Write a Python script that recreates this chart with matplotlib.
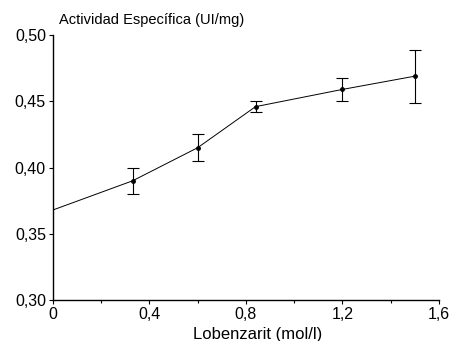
import numpy as np
import matplotlib
matplotlib.use("Agg")
import matplotlib.pyplot as plt
from matplotlib.ticker import MultipleLocator, FuncFormatter

plt.rcParams['font.family'] = ['Liberation Sans', 'DejaVu Sans']

# concentration (mol/l) and specific activity (UI/mg)
conc = [0.0, 0.33, 0.6, 0.84, 1.2, 1.5]
activity = [0.368, 0.390, 0.415, 0.446, 0.459, 0.469]
err = [0.0, 0.010, 0.010, 0.004, 0.009, 0.020]

fig = plt.figure(figsize=(4.6, 3.41), dpi=100)
ax = fig.add_axes([0.115, 0.12, 0.839, 0.777])

# line through all points, markers/error bars only on measured ones
ax.plot(conc, activity, color='black', lw=0.7)
ax.errorbar(conc[1:], activity[1:], yerr=err[1:], fmt='o', color='black',
            ms=2.5, elinewidth=0.8, capsize=4, capthick=0.8)

ax.set_xlim(0, 1.6)
ax.set_ylim(0.30, 0.50)
ax.xaxis.set_major_locator(MultipleLocator(0.4))
ax.xaxis.set_minor_locator(MultipleLocator(0.2))
ax.yaxis.set_major_locator(MultipleLocator(0.05))

def comma(v, pos, nd):
    if abs(v) < 1e-9:
        return '0'
    return f"{v:.{nd}f}".replace('.', ',')

ax.xaxis.set_major_formatter(FuncFormatter(lambda v, p: comma(v, p, 1)))
ax.yaxis.set_major_formatter(FuncFormatter(lambda v, p: f"{v:.2f}".replace('.', ',')))

for s in ['top', 'right']:
    ax.spines[s].set_visible(False)
for s in ['left', 'bottom']:
    ax.spines[s].set_linewidth(1.0)

ax.tick_params(axis='both', which='major', labelsize=11.5, length=3, width=0.8, pad=2)
ax.tick_params(axis='x', which='minor', length=2, width=0.8)

ax.set_xlabel('Lobenzarit (mol/l)', fontsize=12, labelpad=0)
ax.xaxis.set_label_coords(0.53, -0.1)
fig.text(0.128, 0.941, 'Actividad Específica (UI/mg)', fontsize=10.5,
         ha='left', va='center')

fig.savefig('out.png', dpi=100)
